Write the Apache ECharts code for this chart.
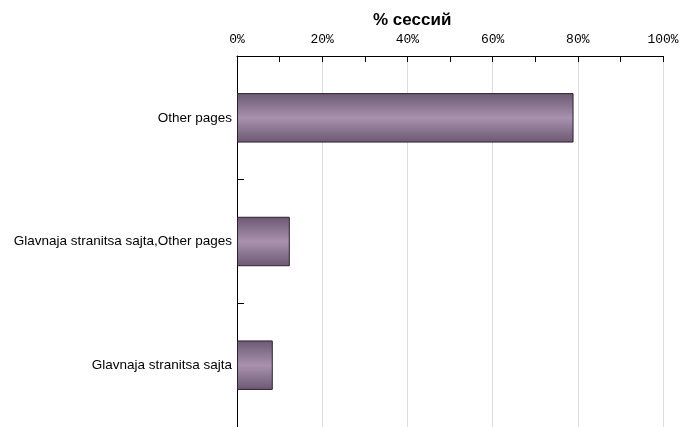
<!DOCTYPE html>
<html><head><meta charset="utf-8">
<script src="https://cdn.jsdelivr.net/npm/echarts@6/dist/echarts.min.js"></script>
<style>html,body{margin:0;padding:0;background:#fff}#c{width:682px;height:427px}</style>
</head><body><div id="c"></div>
<script>
var categories = ['Other pages', 'Glavnaja stranitsa sajta,Other pages', 'Glavnaja stranitsa sajta'];
var values = [79.0, 12.4, 8.4];
var axisTitle = '% сессий';
var tickFormat = function (v) { return v + '%'; };

var chart = echarts.init(document.getElementById('c'));
chart.setOption({
  animation: false,
  backgroundColor: '#ffffff',
  title: {
    text: axisTitle, left: 368, top: 7,
    textStyle: { fontFamily: 'Liberation Sans, Arial', fontSize: 17, fontWeight: 'bold', color: '#000' }
  },
  grid: { left: 237, right: 19, top: 56, bottom: -4, containLabel: false },
  xAxis: {
    type: 'value', position: 'top', min: 0, max: 100, interval: 20,
    axisLine: { show: true, lineStyle: { color: '#000', width: 1 } },
    axisTick: { show: true, inside: true, length: 6, lineStyle: { color: '#000' } },
    minorTick: { show: true, splitNumber: 2, length: 6, lineStyle: { color: '#000' } },
    splitLine: { show: true, lineStyle: { color: '#dcdcdc', width: 1 } },
    axisLabel: { formatter: tickFormat, margin: 10, fontFamily: 'Liberation Mono', fontSize: 13, color: '#000' }
  },
  yAxis: {
    type: 'category', data: categories, inverse: true,
    axisLine: { show: true, lineStyle: { color: '#000', width: 1 } },
    axisTick: { show: true, inside: true, length: 7, lineStyle: { color: '#000' } },
    axisLabel: { margin: 5, fontFamily: 'Liberation Sans, Arial', fontSize: 13.5, color: '#000' }
  },
  series: [{
    type: 'bar', data: values, barCategoryGap: '60%',
    itemStyle: {
      borderColor: '#2e222e', borderWidth: 1,
      color: new echarts.graphic.LinearGradient(0, 0, 0, 1, [
        { offset: 0, color: '#6c5872' },
        { offset: 0.5, color: '#a892ae' },
        { offset: 1, color: '#6c5872' }
      ])
    }
  }]
});
</script></body></html>
